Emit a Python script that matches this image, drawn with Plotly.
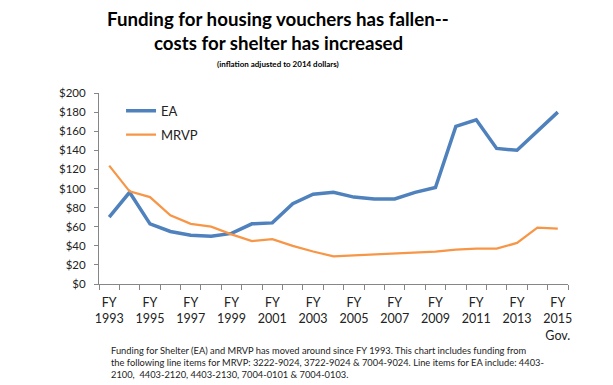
import plotly.graph_objects as go

years = [str(y) for y in range(1993, 2016)]
ea = [70, 96, 63, 55, 51, 50, 53, 63, 64, 84, 94, 96, 91, 89, 89, 96, 101, 165, 172, 142, 140, 160, 180]
mrvp = [124, 97, 91, 72, 63, 60, 52, 45, 47, 40, 34, 29, 30, 31, 32, 33, 34, 36, 37, 37, 43, 59, 58]
tick_text = ["FY<br>%s" % y if (int(y) - 1993) % 2 == 0 else "" for y in years]
tick_text[-1] = "FY<br>2015<br>Gov."
y_ticks = list(range(0, 201, 20))
y_labels = ["$%d" % v for v in y_ticks]

FONT = "Lato, 'Liberation Sans', sans-serif"
AX = "#868686"
OFF = 8  # page body margin
PL, PR, PT, PB = 99 - OFF, 568 - OFF, 93 - OFF, 284 - OFF
W, H = 613 - OFF, 385 - OFF
PW, PH = PR - PL, PB - PT


def ypix(py):
    """page pixel y -> paper y"""
    return (PB - (py - OFF)) / PH


def xpix(px):
    return (px - OFF - PL) / PW


fig = go.Figure()
fig.add_trace(go.Scatter(x=years, y=ea, mode="lines", name="EA",
                         line=dict(color="#4F81BD", width=3.5), legendgroup="a"))
fig.add_trace(go.Scatter(x=years, y=mrvp, mode="lines", name="MRVP",
                         line=dict(color="#F79646", width=2.25), legendgroup="b"))

fig.update_layout(
    width=W, height=H,
    margin=dict(l=PL, r=W - PR, t=PT, b=H - PB, autoexpand=False),
    plot_bgcolor="white", paper_bgcolor="white",
    font=dict(family=FONT, size=12, color="#222"),
    showlegend=True,
    legend=dict(x=0.047, y=0.985, xanchor="left", yanchor="top",
                bgcolor="rgba(0,0,0,0)", font=dict(size=13, color="#222"),
                traceorder="grouped", tracegroupgap=4, itemwidth=30),
    xaxis=dict(type="category", tickmode="array", tickvals=years, ticktext=tick_text,
               tickson="boundaries", ticks="outside", ticklen=5, tickcolor=AX,
               showline=True, linecolor=AX, linewidth=1, showgrid=False,
               tickangle=0, tickfont=dict(size=12.5, color="#222"),
               ticklabelstandoff=7, range=[-0.5, 22.5]),
    yaxis=dict(range=[0, 200], tickmode="array", tickvals=y_ticks, ticktext=y_labels,
               ticks="outside", ticklen=4, tickcolor=AX, showline=True, linecolor=AX,
               linewidth=1, showgrid=False, zeroline=False, ticklabelstandoff=6,
               tickfont=dict(size=11.5, color="#222")),
)

cx = xpix(278)
fig.add_annotation(text="<b>Funding for housing vouchers has fallen--</b>",
                   xref="paper", yref="paper", x=cx, y=ypix(19),
                   xanchor="center", yanchor="middle", showarrow=False,
                   font=dict(family=FONT, size=18.7, color="black"))
fig.add_annotation(text="<b>costs for shelter has increased</b>",
                   xref="paper", yref="paper", x=cx, y=ypix(43),
                   xanchor="center", yanchor="middle", showarrow=False,
                   font=dict(family=FONT, size=18.7, color="black"))
fig.add_annotation(text="<b>(inflation adjusted to 2014 dollars)</b>",
                   xref="paper", yref="paper", x=cx, y=ypix(63.5),
                   xanchor="center", yanchor="middle", showarrow=False,
                   font=dict(family=FONT, size=8, color="black"))
fig.add_annotation(text="Funding for Shelter (EA) and MRVP has moved around since FY 1993. This chart includes funding from<br>"
                        "the following line items for MRVP: 3222-9024, 3722-9024 &amp; 7004-9024. Line items for EA include: 4403-<br>"
                        "2100,  4403-2120, 4403-2130, 7004-0101 &amp; 7004-0103.",
                   xref="paper", yref="paper", x=xpix(109), y=ypix(343),
                   xanchor="left", yanchor="top", showarrow=False, align="left",
                   font=dict(family=FONT, size=9.3, color="#222"))

fig.write_html("out.html")
